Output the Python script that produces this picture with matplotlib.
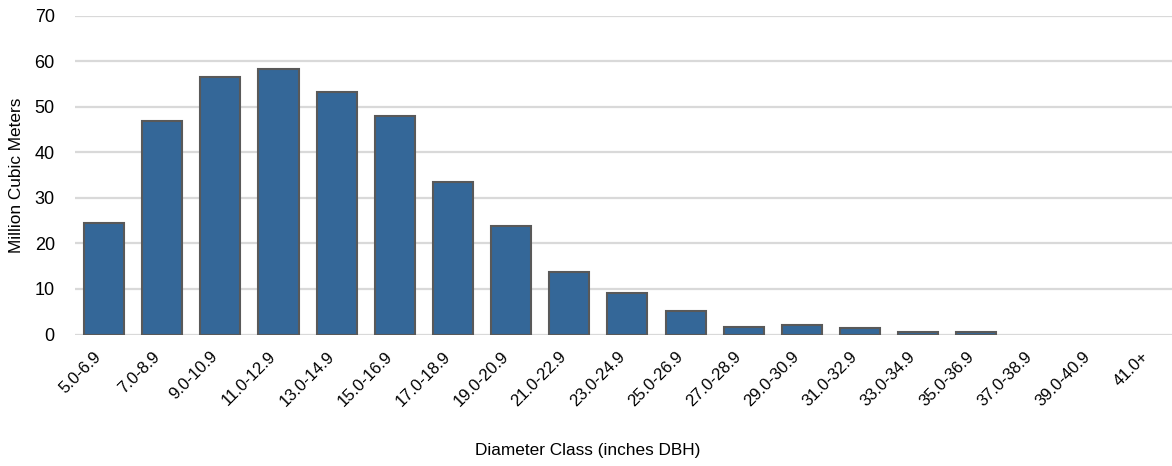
import matplotlib
matplotlib.use("Agg")
import matplotlib.pyplot as plt
import matplotlib.transforms as mtransforms
import numpy as np

categories = ["5.0-6.9", "7.0-8.9", "9.0-10.9", "11.0-12.9", "13.0-14.9", "15.0-16.9",
              "17.0-18.9", "19.0-20.9", "21.0-22.9", "23.0-24.9", "25.0-26.9", "27.0-28.9",
              "29.0-30.9", "31.0-32.9", "33.0-34.9", "35.0-36.9", "37.0-38.9", "39.0-40.9",
              "41.0+"]
volume = [24.4, 46.8, 56.6, 58.2, 53.3, 47.9, 33.5, 23.7, 13.7, 9.2, 5.2, 1.7,
          2.15, 1.35, 0.5, 0.5, 0.0, 0.0, 0.0]

plt.rcParams['font.family'] = ['Liberation Sans Narrow', 'Liberation Sans', 'DejaVu Sans']

W, H = 1172, 466
fig = plt.figure(figsize=(W / 100, H / 100), dpi=100)
left, right_px = 75, 75 + 19 * 58.15
bottom_px, top_px = 334.5, 15.5
ax = fig.add_axes([left / W, (H - bottom_px) / H, (right_px - left) / W, (bottom_px - top_px) / H])

x = np.arange(len(categories))
lw = [1.5 if v > 0 else 0 for v in volume]
ax.bar(x, volume, width=0.69, color="#346798", edgecolor="#595959", linewidth=lw, zorder=3)

ax.set_xlim(-0.5, len(categories) - 0.5)
ax.set_ylim(0, 70)
ax.set_yticks(np.arange(0, 71, 10))
ax.yaxis.grid(True, color="#d9d9d9", linewidth=1.6, zorder=0)
ax.set_axisbelow(True)
for s in ax.spines.values():
    s.set_visible(False)
ax.tick_params(axis="both", length=0, colors="black")
ax.tick_params(axis="y", pad=14.5, labelsize=13)
ax.set_xticks(x)
ax.set_xticklabels(categories, rotation=45, ha="right", va="center", rotation_mode="anchor")
ax.tick_params(axis="x", pad=14, labelsize=12)
offset = mtransforms.ScaledTranslation(-5 / 100, 0, fig.dpi_scale_trans)
for lab in ax.get_xticklabels():
    lab.set_transform(lab.get_transform() + offset)

ax.set_ylabel("Million Cubic Meters", fontsize=12.4)
ax.yaxis.set_label_coords(-(left - 16) / (right_px - left), 0.5)
ax.set_xlabel("Diameter Class (inches DBH)", fontsize=12.4)
ax.xaxis.set_label_coords((588 - left) / (right_px - left), -(451 - bottom_px) / (bottom_px - top_px))
ax.xaxis.label.set_va("center")
ax.yaxis.label.set_va("center")

fig.savefig("out.png", dpi=100)
